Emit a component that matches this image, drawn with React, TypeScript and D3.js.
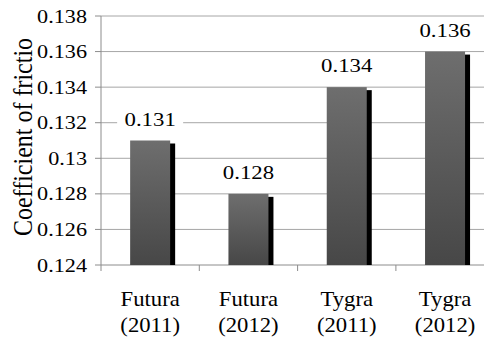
import React from "react";
import * as d3 from "d3";

const categories = ["Futura (2011)", "Futura (2012)", "Tygra (2011)", "Tygra (2012)"];
const categoryLines = [
  ["Futura", "(2011)"],
  ["Futura", "(2012)"],
  ["Tygra", "(2011)"],
  ["Tygra", "(2012)"],
];
const friction = [0.131, 0.128, 0.134, 0.136];
const valueLabels = ["0.131", "0.128", "0.134", "0.136"];
const yTicks = [0.124, 0.126, 0.128, 0.13, 0.132, 0.134, 0.136, 0.138];
const yTitle = "Coefficient of frictio";

const W = 484;
const H = 340;
const FONT = "Liberation Serif, serif";

export default function App() {
  const y = d3.scaleLinear().domain([0.124, 0.138]).range([265, 16]);
  const x = d3
    .scaleBand<string>()
    .domain(categories)
    .range([101, 494.2])
    .paddingInner(0.593)
    .paddingOuter(0.2965);
  const step = x.step();
  const left = x.range()[0];
  const bottom = y(0.124);
  const fmt = d3.format("");
  const textStyle = { fontFamily: FONT };

  return (
    <svg
      width={W}
      height={H}
      style={{ position: "absolute", left: 0, top: 0, background: "#fff" }}
    >
      <defs>
        <linearGradient id="barFill" x1="0" y1="0" x2="0" y2="1">
          <stop offset="0" stopColor="#6e6e6e" />
          <stop offset="1" stopColor="#474747" />
        </linearGradient>
      </defs>

      {/* horizontal gridlines */}
      {yTicks.slice(1).map((t) => (
        <line key={t} x1={left} x2={W + 20} y1={y(t)} y2={y(t)} stroke="#a6a6a6" strokeWidth={1} />
      ))}

      {/* y axis and tick marks */}
      <line x1={left} x2={left} y1={y(0.138)} y2={bottom} stroke="#8c8c8c" />
      {yTicks.map((t) => (
        <line key={"yt" + t} x1={left - 6} x2={left} y1={y(t)} y2={y(t)} stroke="#8c8c8c" />
      ))}
      {yTicks.map((t) => (
        <text
          key={"yl" + t}
          transform={`translate(87,${y(t) + 6.5}) scale(1.2,1)`}
          textAnchor="end"
          fontSize={18.5}
          fill="#000"
          style={textStyle}
        >
          {fmt(t)}
        </text>
      ))}

      {/* x axis and category separators */}
      <line x1={left} x2={W + 20} y1={bottom} y2={bottom} stroke="#8c8c8c" />
      {d3.range(categories.length + 1).map((i) => (
        <line
          key={"xt" + i}
          x1={left + i * step}
          x2={left + i * step}
          y1={bottom}
          y2={bottom + 6}
          stroke="#8c8c8c"
        />
      ))}

      {/* bars with offset shadow */}
      {categories.map((c, i) => {
        const bx = x(c) as number;
        const by = y(friction[i]);
        const bw = x.bandwidth();
        return (
          <g key={c}>
            <rect x={bx + 5} y={by + 3} width={bw} height={bottom - by - 3} fill="#000" />
            <rect x={bx} y={by} width={bw} height={bottom - by} fill="url(#barFill)" />
          </g>
        );
      })}

      {/* value labels on a white backing */}
      {categories.map((c, i) => {
        const cx = (x(c) as number) + x.bandwidth() / 2;
        const base = y(friction[i]) - 15;
        return (
          <g key={"v" + c}>
            <rect x={cx - 33} y={base - 19} width={66} height={24} fill="#fff" />
            <text
              transform={`translate(${cx},${base}) scale(1.2,1)`}
              textAnchor="middle"
              fontSize={19}
              fill="#000"
              style={textStyle}
            >
              {valueLabels[i]}
            </text>
          </g>
        );
      })}

      {/* category labels */}
      {categories.map((c, i) => {
        const cx = (x(c) as number) + x.bandwidth() / 2;
        return (
          <g key={"c" + c}>
            {categoryLines[i].map((line, j) => (
              <text
                key={j}
                transform={`translate(${cx},${306 + j * 26}) scale(1.08,1)`}
                textAnchor="middle"
                fontSize={21}
                fill="#000"
                style={textStyle}
              >
                {line}
              </text>
            ))}
          </g>
        );
      })}

      {/* y axis title */}
      <text
        transform={`translate(32,137) scale(1.1,1) rotate(-90)`}
        textAnchor="middle"
        fontSize={24}
        fill="#000"
        style={textStyle}
      >
        {yTitle}
      </text>
    </svg>
  );
}
